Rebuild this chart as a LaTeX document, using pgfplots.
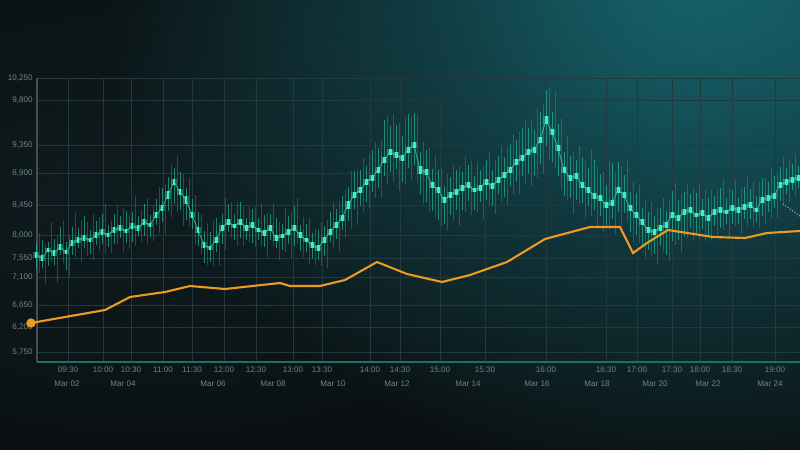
\documentclass[border=0pt]{standalone}
\usepackage{fontspec}
\setmainfont{Liberation Sans}
\usepackage{pgfplots}
\usepackage{pgfplotstable}
\usetikzlibrary{fadings}
\pgfplotsset{compat=1.18}
\tikzfading[name=myfade, inner color=transparent!0, outer color=transparent!100]
\definecolor{bgA}{HTML}{0B1113}
\definecolor{bgB}{HTML}{0F1D20}
\definecolor{glow}{HTML}{17616A}
\definecolor{gridc}{HTML}{223A3D}
\definecolor{txt}{HTML}{6F8386}
\definecolor{wick}{HTML}{22CFA4}
\definecolor{body}{HTML}{3CF2C2}
\definecolor{orng}{HTML}{EE9A22}
\pgfplotstableread{
x py wu wd b wu2 wd2
36 255 12 14 3 22 18
42 258 18 10 3 14 26
48 250 8 16 2 28 12
54 253 14 12 3 18 30
60 247 20 8 3 26 16
66 252 10 18 2 16 24
72 243 16 12 3 30 14
78 240 12 8 3 20 22
84 238 22 10 3 16 18
90 240 10 14 2 26 20
96 235 14 10 3 18 16
102 232 18 12 3 28 22
108 235 10 12 2 14 18
114 230 16 14 3 24 14
120 228 12 10 3 20 24
126 231 20 12 2 16 18
132 226 14 16 3 30 20
138 228 12 8 3 18 14
144 222 18 14 3 24 22
150 225 10 12 2 20 16
156 215 16 10 3 28 18
162 208 20 14 3 24 26
168 195 18 16 4 30 22
174 182 14 22 3 26 30
180 192 20 18 3 18 34
186 200 12 20 4 22 26
192 215 16 14 3 20 30
198 230 18 16 3 16 24
204 245 14 18 3 22 20
210 248 16 14 2 28 18
216 240 22 12 3 18 26
222 228 14 16 3 30 22
228 222 18 10 3 20 16
234 226 12 14 2 24 20
240 222 20 16 3 16 24
246 228 10 12 3 22 14
252 225 16 18 3 18 22
258 230 12 10 2 26 16
264 233 18 14 3 20 24
270 228 14 12 3 24 18
276 238 20 10 3 16 22
282 236 12 14 2 28 16
288 232 16 12 3 20 26
294 228 22 18 3 30 16
300 235 10 16 3 18 22
306 240 16 12 2 22 24
312 245 12 14 3 16 20
318 248 18 12 3 26 18
324 240 14 16 3 20 28
330 232 20 10 3 30 16
336 225 16 14 3 24 26
342 218 22 12 3 28 20
348 205 18 16 4 34 24
354 195 24 14 3 26 30
360 190 20 16 3 32 22
366 182 16 20 3 28 26
372 178 28 14 3 36 20
378 170 22 18 3 30 28
384 160 40 16 3 44 24
390 152 26 20 3 38 30
396 155 30 14 3 32 36
402 158 22 24 3 40 26
408 150 36 18 3 34 30
414 145 32 20 3 30 38
420 170 18 24 4 28 34
426 172 22 30 3 24 40
432 185 16 26 3 30 32
438 190 20 30 3 22 36
444 200 14 24 3 26 30
450 195 18 20 3 30 26
456 192 22 18 3 26 34
462 188 16 22 3 32 24
468 185 20 16 3 24 30
474 190 14 20 2 28 22
480 188 18 14 3 22 32
486 182 22 18 3 30 24
492 186 16 20 3 26 28
498 180 24 14 3 34 22
504 175 18 22 3 28 30
510 170 26 16 3 36 24
516 162 22 20 3 30 32
522 158 30 18 3 38 26
528 152 24 22 3 32 34
534 150 20 26 3 42 28
540 140 28 24 3 36 34
546 120 30 26 4 32 40
552 132 20 30 3 40 36
558 148 24 28 3 30 42
564 170 18 26 3 34 30
570 178 22 20 3 26 36
576 176 16 24 3 30 28
582 185 28 18 3 24 34
588 190 22 16 3 40 26
594 196 36 14 3 30 30
600 198 24 18 3 26 34
606 205 20 20 3 44 24
612 203 40 16 3 30 32
618 190 28 22 3 24 36
624 195 20 18 3 34 26
630 208 16 24 3 26 34
636 215 22 20 3 30 28
642 222 14 24 3 22 36
648 230 18 20 3 28 26
654 232 16 22 3 24 32
660 228 20 18 3 30 24
666 225 14 30 3 26 36
672 215 24 26 3 32 30
678 218 18 22 3 24 34
684 212 20 24 3 28 26
690 210 16 18 3 22 30
696 215 22 20 2 30 24
702 213 14 16 3 24 28
708 218 20 18 3 28 22
714 212 16 14 3 22 26
720 210 22 18 3 30 20
726 212 14 12 2 24 24
732 208 18 16 3 28 18
738 210 12 14 3 22 24
744 207 20 12 3 30 20
750 205 16 14 3 24 22
756 210 14 12 2 28 18
762 200 22 16 3 22 24
768 198 16 14 3 30 20
774 196 20 12 3 24 22
780 185 18 16 3 28 18
786 182 14 12 3 22 20
792 180 16 10 3 26 16
798 178 12 10 3 18 14
}\candles
\pgfplotstableread{
x y
31 127
105 140
130 153
165 158
190 164
225 161
280 167
290 164
320 164
345 170
377 188
407 176
442 168
470 175
507 188
545 211
590 223
620 223
633 197
647 207
668 220
713 213
745 212
767 217
800 219
}\trend
\begin{document}
\begin{tikzpicture}
\useasboundingbox (0,0) rectangle (16cm,9cm);
\fill[bgA] (0,0) rectangle (16cm,9cm);
\begin{scope}
\clip (0,0) rectangle (16cm,9cm);
\fill[bgB, path fading=myfade] (3cm,5cm) ellipse (9cm and 5cm);
\fill[glow, path fading=myfade] (14cm,9.4cm) ellipse (12cm and 10cm);
\fill[glow, opacity=0.5, path fading=myfade] (15cm,9.6cm) circle (6cm);
\end{scope}
\begin{axis}[
  at={(0.74cm,1.76cm)}, anchor=south west,
  scale only axis, width=15.26cm, height=5.68cm,
  xmin=37, xmax=800, ymin=88, ymax=372,
  clip=false,
  axis line style={draw=none},
  axis x line*=bottom, axis y line*=left,
  tick style={draw=none},
  grid=major, grid style={gridc, line width=0.5pt},
  xtick={68,103,131,163,192,224,256,293,322,370,400,440,485,546,606,637,672,700,732,775},
  xticklabels={09:30,10:00,10:30,11:00,11:30,12:00,12:30,13:00,13:30,14:00,14:30,15:00,15:30,16:00,16:30,17:00,17:30,18:00,18:30,19:00},
  extra x ticks={33,67,123,213,273,333,397,468,537,597,655,708,770},
  extra x tick labels={Mar 01,Mar 02,Mar 04,Mar 06,Mar 08,Mar 10,Mar 12,Mar 14,Mar 16,Mar 18,Mar 20,Mar 22,Mar 24},
  extra x tick style={grid=none, tick label style={yshift=-8pt}},
  ytick={98,123,145,173,192,215,245,277,305,350,372},
  yticklabels={5{,}750,6{,}200,6{,}650,7{,}100,7{,}550,8{,}000,8{,}450,8{,}900,9{,}350,9{,}800,10{,}250},
  tick label style={font=\fontsize{4.6}{5.5}\selectfont, text=txt},
  xticklabel style={yshift=1pt},
  yticklabel style={xshift=1pt},
  /pgf/number format/assume math mode=true,
]
\draw[color=txt!60!black, line width=0.6pt] (axis cs:37,88) -- (axis cs:37,372);
\draw[color=wick!35!gridc, line width=0.8pt] (axis cs:37,88) -- (axis cs:800,88);
\addplot[draw=none, mark=none, forget plot,
  error bars/.cd, y dir=both, y explicit, error mark=none,
  error bar style={draw=wick, draw opacity=0.33, line width=0.45pt, solid}]
  table[x expr=\thisrow{x}+3, y expr=450-\thisrow{py}, y error plus=wu2, y error minus=wd2] {\candles};
\addplot[draw=none, mark=none, forget plot,
  error bars/.cd, y dir=both, y explicit, error mark=none,
  error bar style={draw=wick, draw opacity=0.6, line width=0.55pt, solid}]
  table[x=x, y expr=450-\thisrow{py}, y error plus=wu, y error minus=wd] {\candles};
\addplot[body, line width=0.6pt, opacity=0.55, mark=none] table[x=x, y expr=450-\thisrow{py}] {\candles};
\addplot[draw=none, mark=none, forget plot,
  error bars/.cd, y dir=both, y explicit, error mark=none,
  error bar style={draw=body, draw opacity=0.35, line width=3pt, solid}]
  table[x=x, y expr=450-\thisrow{py}, y error plus=b, y error minus=b] {\candles};
\addplot[draw=none, mark=none, forget plot,
  error bars/.cd, y dir=both, y explicit, error mark=none,
  error bar style={draw=body, line width=1.7pt, solid}]
  table[x=x, y expr=450-\thisrow{py}, y error plus=b, y error minus=b] {\candles};
\addplot[orng, line width=1.2pt, mark=*, mark size=2pt, mark indices={1}, mark options={fill=orng, draw=orng}] table[x=x,y=y] {\trend};
\addplot[gray!70, densely dotted, line width=0.6pt] coordinates {(783,246) (800,234)};
\end{axis}
\end{tikzpicture}
\end{document}
